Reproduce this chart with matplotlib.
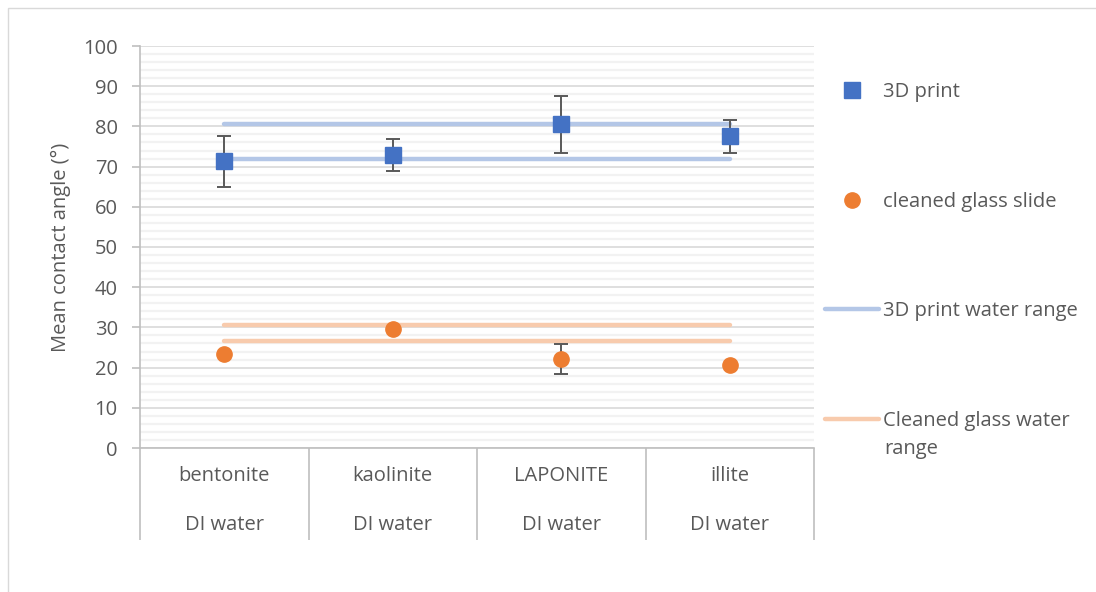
import matplotlib
matplotlib.use("Agg")
import matplotlib.pyplot as plt
from matplotlib.lines import Line2D
from matplotlib.patches import Rectangle
from matplotlib.ticker import MultipleLocator

plt.rcParams['font.family'] = ['Open Sans', 'DejaVu Sans']

# data
materials = ["bentonite", "kaolinite", "LAPONITE", "illite"]
liquids = ["DI water", "DI water", "DI water", "DI water"]
print_mean = [71.3, 72.9, 80.5, 77.6]
print_err = [6.3, 4.0, 7.0, 4.1]
glass_mean = [23.3, 29.5, 22.1, 20.6]
glass_err = [0.0, 0.0, 3.7, 0.0]
print_range = [71.9, 80.7]
glass_range = [26.5, 30.7]

TEXT = "#595959"
AXIS = "#BFBFBF"
BLUE = "#4472C4"
ORANGE = "#ED7D31"
BLUE_LIGHT = "#B4C7E7"
ORANGE_LIGHT = "#F8CBAD"
FS = 14.5

W, H = 1096, 592
fig = plt.figure(figsize=(W/100, H/100), dpi=100)
ax = fig.add_axes([140/W, 1-448/H, 674/W, 402/H])

pos = list(range(len(materials)))

# range lines (drawn first, sit under markers)
for val in print_range:
    ax.plot([pos[0], pos[-1]], [val, val], color=BLUE_LIGHT, lw=3.2,
            solid_capstyle='round', zorder=2)
for val in glass_range:
    ax.plot([pos[0], pos[-1]], [val, val], color=ORANGE_LIGHT, lw=3.2,
            solid_capstyle='round', zorder=2)

ax.errorbar(pos, print_mean, yerr=print_err, fmt='none', ecolor=TEXT,
            elinewidth=1.4, capsize=5, capthick=1.4, zorder=3)
ax.errorbar(pos, glass_mean, yerr=glass_err, fmt='none', ecolor=TEXT,
            elinewidth=1.4, capsize=5, capthick=1.4, zorder=3)
ax.plot(pos, print_mean, 's', color=BLUE, ms=11, mec=BLUE, ls='none', zorder=4)
ax.plot(pos, glass_mean, 'o', color=ORANGE, ms=11, mec=ORANGE, ls='none', zorder=4)

ax.set_ylim(0, 100)
ax.set_xlim(-0.5, len(materials) - 0.5)
ax.yaxis.set_major_locator(MultipleLocator(10))
ax.yaxis.set_minor_locator(MultipleLocator(2))
ax.grid(which='minor', axis='y', color='#F2F2F2', lw=1.6, zorder=0)
ax.grid(which='major', axis='y', color='#D9D9D9', lw=1.2, zorder=1)
ax.set_axisbelow(True)

for s in ['top', 'right']:
    ax.spines[s].set_visible(False)
for s in ['left', 'bottom']:
    ax.spines[s].set_color(AXIS)
    ax.spines[s].set_linewidth(1.2)

ax.tick_params(axis='y', which='major', length=6, color=AXIS, width=1.2,
               labelsize=FS, labelcolor=TEXT, pad=10)
ax.tick_params(axis='y', which='minor', length=0)

# category labels, two levels
ax.set_xticks(pos)
ax.set_xticklabels(materials)
ax.tick_params(axis='x', which='major', length=0, labelsize=FS,
               labelcolor=TEXT, pad=13)
ax.set_xticks([p - 0.5 for p in pos] + [pos[-1] + 0.5], minor=True)
ax.tick_params(axis='x', which='minor', length=66, color=AXIS, width=1.2)
for p, liq in zip(pos, liquids):
    ax.text(p, -0.192, liq, transform=ax.get_xaxis_transform(),
            ha='center', va='center', fontsize=FS, color=TEXT)

ax.set_ylabel("Mean contact angle (°)", fontsize=FS, color=TEXT, labelpad=9)

handles = [
    Line2D([], [], marker='s', color=BLUE, ms=11, ls='none'),
    Line2D([], [], marker='o', color=ORANGE, ms=11, ls='none'),
    Line2D([], [], color=BLUE_LIGHT, lw=3.2, solid_capstyle='round'),
    Line2D([], [], color=ORANGE_LIGHT, lw=3.2, solid_capstyle='round'),
]
labels = ["3D print", "cleaned glass slide", "3D print water range",
          "Cleaned glass water"]
leg = fig.legend(handles, labels, loc='upper left',
                 bbox_to_anchor=(825/W, 1-82/H), frameon=False,
                 fontsize=FS, labelcolor=TEXT, handlelength=2.7,
                 handletextpad=0.2, labelspacing=4.45, borderpad=0,
                 borderaxespad=0)
# second line of the last legend label, wrapped like the original
fig.text(884/W, 1-449/H, "range", ha='left', va='center',
         fontsize=FS, color=TEXT)

fig.patches.append(Rectangle((8/W, -0.1), 1.2, 1.1 - 8/H,
                             transform=fig.transFigure, fill=False,
                             edgecolor='#D9D9D9', lw=1.0))

fig.savefig("out.png", dpi=100)
